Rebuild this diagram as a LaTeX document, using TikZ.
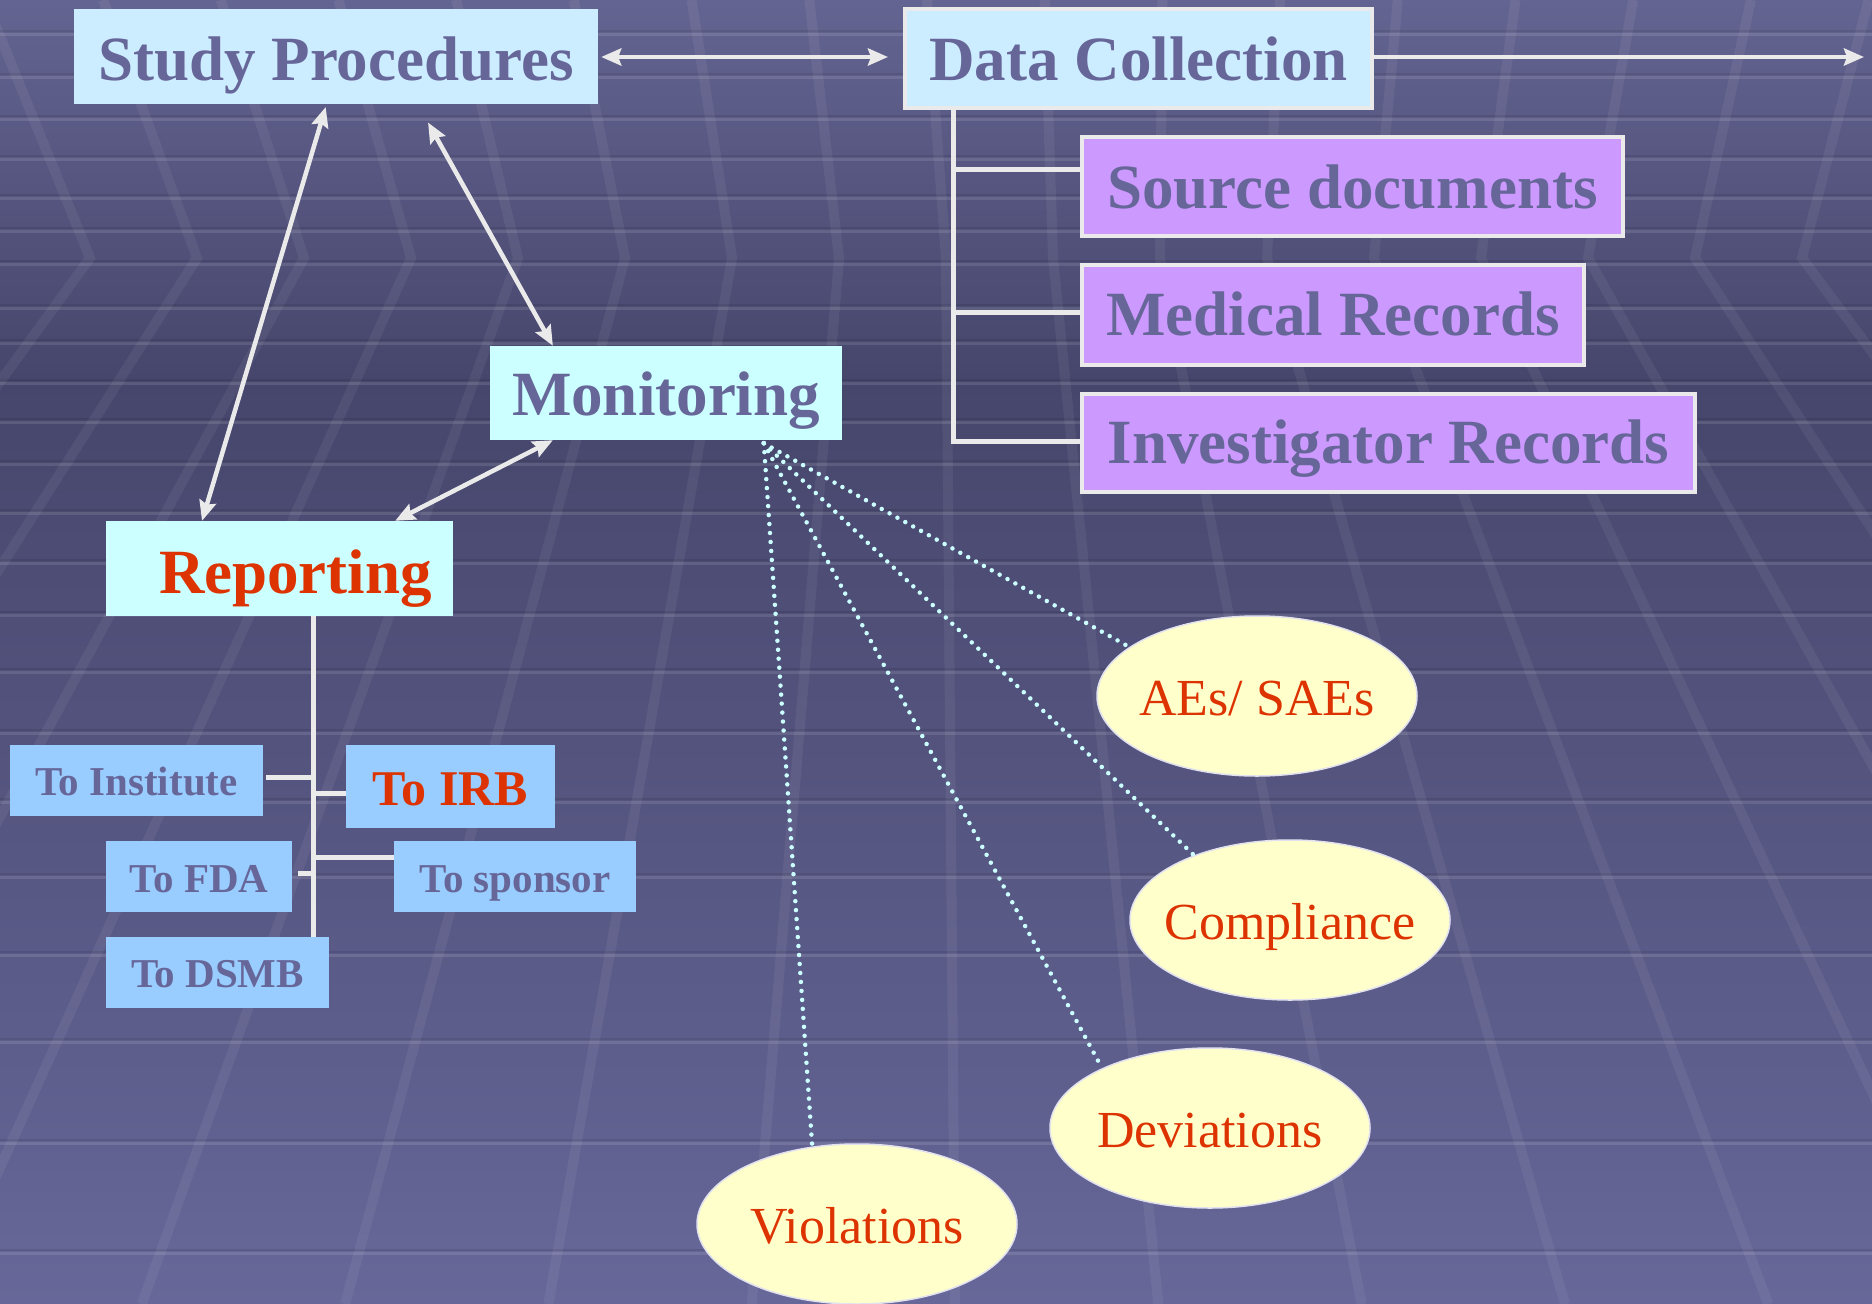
\documentclass[tikz,border=0pt]{standalone}
\usepackage{fontspec}
\setmainfont{Liberation Serif}
\usetikzlibrary{arrows.meta,calc,shapes.geometric}
\newcommand\myfs[1]{\fontsize{#1pt}{#1pt}\selectfont}
\definecolor{bgtop}{RGB}{100,100,146}
\definecolor{bgmid}{RGB}{70,70,108}
\definecolor{bgbot}{RGB}{103,103,153}
\definecolor{slate}{RGB}{102,102,153}
\definecolor{paleblue}{RGB}{204,236,255}
\definecolor{palecyan}{RGB}{204,255,255}
\definecolor{skyblue}{RGB}{153,204,255}
\definecolor{lilac}{RGB}{204,153,255}
\definecolor{cream}{RGB}{255,255,204}
\definecolor{redtxt}{RGB}{221,51,0}
\definecolor{linegray}{RGB}{234,234,234}
\definecolor{dotcol}{RGB}{204,255,255}
\definecolor{ellborder}{RGB}{225,225,240}
\begin{document}
\begin{tikzpicture}[x=1pt,y=-1pt,
  box/.style={rectangle, inner sep=0pt, text=slate, font=\bfseries\myfs{63}, text depth=0pt},
  smallbox/.style={rectangle, inner sep=0pt, fill=skyblue, text=slate, font=\bfseries\myfs{41}, text depth=0pt, minimum height=71pt},
  oval/.style={ellipse, inner sep=0pt, fill=cream, draw=ellborder, line width=1.5pt, minimum width=320pt, minimum height=160pt, text=redtxt, font=\myfs{52}, text height=39pt, text depth=0pt},
  arr/.style={draw=linegray, line width=4.5pt},
  dblarr/.style={arr, {Stealth[length=20pt,width=17pt,inset=3pt]}-{Stealth[length=20pt,width=17pt,inset=3pt]}},
  onearr/.style={arr, -{Stealth[length=20pt,width=17pt,inset=3pt]}},
  tree/.style={draw=linegray, line width=5pt},
  dots/.style={draw=dotcol, line width=4.5pt, line cap=round, dash pattern=on 0pt off 9pt}]
\useasboundingbox (0,0) rectangle (1872,1304);
% ---------- background ----------
\begin{scope}
\clip (0,0) rectangle (1872,1304);
\shade[top color=bgtop, bottom color=bgmid] (0,0) rectangle (1872,380);
\shade[top color=bgmid, bottom color=bgbot] (0,380) rectangle (1872,1304);
\foreach \y in {34,77,119,159,198,231,264,308,343,383,422,464,513,563,615,672,733,802,877,955,1042,1143,1253}{
  \draw[line width=2pt, black, opacity=0.09] (0,\y-3) -- (1872,\y-3);
  \draw[line width=3pt, white, opacity=0.11] (0,\y) -- (1872,\y);
}
\foreach \i in {-1,...,18}{
  \pgfmathsetmacro{\xh}{90+107*\i}
  \pgfmathsetmacro{\xt}{\xh+0.1*(\xh-936)-20}
  \pgfmathsetmacro{\xb}{\xh+0.9*(\xh-936)}
  \draw[line width=10pt, white, opacity=0.06, line join=miter] (\xt,0) -- (\xh,258) -- (\xb,1304);
}
\end{scope}
% ---------- nodes ----------
\node[box, fill=paleblue, minimum width=524pt, minimum height=95pt, text height=47pt] (SP) at (336,56.5) {Study Procedures};
\node[box, fill=paleblue, draw=linegray, line width=4pt, minimum width=467pt, minimum height=99pt, text height=43pt] (DC) at (1138.5,58.5) {Data Collection};
\node[box, fill=lilac, draw=linegray, line width=4pt, minimum width=541pt, minimum height=99pt, text height=43pt] (Src) at (1352.5,186.5) {Source documents};
\node[box, fill=lilac, draw=linegray, line width=4pt, minimum width=502pt, minimum height=100pt, text height=40pt] (Med) at (1333,315) {Medical Records};
\node[box, fill=lilac, draw=linegray, line width=4pt, minimum width=613pt, minimum height=98pt, text height=40pt] (Inv) at (1388.5,443) {Investigator Records};
\node[box, fill=palecyan, minimum width=352pt, minimum height=94pt, text height=44pt] (Mon) at (666,393) {Monitoring};
\node[box, fill=palecyan, text=redtxt, minimum width=347pt, minimum height=95pt, text height=49pt] (Rep) at (279.5,568.5) {\hspace*{32pt}Reporting};
\node[smallbox, minimum width=253pt, text height=29pt] (Inst) at (136.5,780.5) {To Institute};
\node[smallbox, minimum width=209pt, minimum height=83pt, text height=37pt, text=redtxt, font=\bfseries\myfs{50}] (IRB) at (450.5,786.5) {To IRB};
\node[smallbox, minimum width=186pt, text height=31pt] (FDA) at (199,876.5) {To FDA};
\node[smallbox, minimum width=242pt, text height=31pt] (Spon) at (515,876.5) {To sponsor};
\node[smallbox, minimum width=223pt, text height=29pt] (DSMB) at (217.5,972.5) {To DSMB};
\node[oval] (AE) at (1257,696) {\makebox[0pt]{AEs/ SAEs}};
\node[oval] (Comp) at (1290,920) {\makebox[0pt]{Compliance}};
\node[oval] (Dev) at (1210,1128) {\makebox[0pt]{Deviations}};
\node[oval] (Vio) at (857,1224) {\makebox[0pt]{Violations}};
% ---------- connectors ----------
\coordinate (spE) at ($(SP.east)+(3,0.5)$);
\draw[dblarr, shorten >=15pt] (spE) -- (spE -| DC.west);
\coordinate (farR) at (1864,57);
\draw[onearr] (DC.east |- farR) -- (farR);
\draw[dblarr, shorten <=3pt] ($(SP.south west)!0.482!(SP.south east)$) -- ($(Rep.north west)!0.277!(Rep.north east)$);
\draw[dblarr, shorten <=21pt] ($(SP.south west)!0.656!(SP.south east)$) -- ($(Mon.north west)!0.179!(Mon.north east)$);
\draw[dblarr] ($(Mon.south west)!0.179!(Mon.south east)$) -- ($(Rep.north west)!0.833!(Rep.north east)$);
% data collection tree
\coordinate (dcA) at ($(DC.south west)+(50,0)$);
\draw[tree] (dcA) |- ($(Src.west)+(0,-17)$);
\draw[tree] (dcA) |- ($(Med.west)+(0,-3)$);
\draw[tree] (dcA) |- ($(Inv.west)+(0,-2)$);
% reporting tree
\coordinate (rA) at ($(Rep.south west)+(208,0)$);
\draw[tree] (rA) -- (rA |- DSMB.north);
\coordinate (instB) at ($(Inst.east)+(3,-3.5)$);
\draw[tree] (instB) -- (instB -| rA);
\coordinate (irbB) at ($(IRB.west)+(0,6.5)$);
\draw[tree] (irbB) -- (irbB -| rA);
\coordinate (fdaB) at ($(FDA.east)+(6,-3.5)$);
\draw[tree] (fdaB) -- (fdaB -| rA);
\coordinate (sponB) at ($(Spon.west)+(0,-19.5)$);
\draw[tree] (sponB) -- (sponB -| rA);
% monitoring dotted links
\coordinate (mD) at ($(Mon.south west)+(274,3)$);
\draw[dots] (mD) -- (AE.159);
\draw[dots] (mD) -- (Comp.146);
\draw[dots] (mD) -- (Dev.151);
\draw[dots] (mD) -- (Vio.120);
\end{tikzpicture}
\end{document}
